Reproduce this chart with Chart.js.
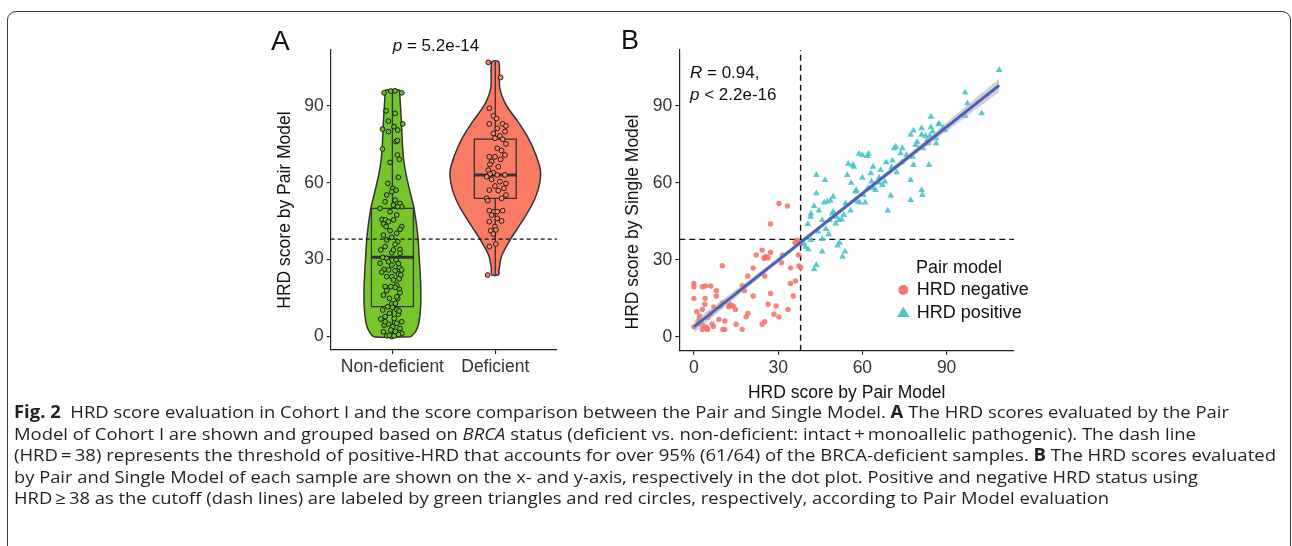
<!DOCTYPE html>
<html>
<head>
<meta charset="utf-8">
<script src="https://cdn.jsdelivr.net/npm/chart.js@4.4.1/dist/chart.umd.min.js"></script>
<style>
  body { margin: 0; background: #fff; width: 1292px; height: 546px; overflow: hidden; position: relative; }
  #frame { position: absolute; left: 7px; top: 11px; width: 1284px; height: 600px; border: 1px solid #3a3a3a; border-radius: 9px; box-sizing: border-box; }
  #wrapA { position: absolute; left: 255px; top: 20px; }
  #wrapB { position: absolute; left: 600px; top: 20px; }
  .cap { position: absolute; left: 14px; white-space: nowrap; font-family: "Open Sans", sans-serif; font-size: 17px; line-height: 22px; color: #231f20; transform-origin: 0 50%; }
</style>
</head>
<body>
<div id="frame"></div>
<div id="wrapA"><canvas id="chartA" width="345" height="370"></canvas></div>
<div id="wrapB"><canvas id="chartB" width="440" height="390"></canvas></div>

<div class="cap" style="top:401px"><b>Fig. 2</b>&nbsp; HRD score evaluation in Cohort I and the score comparison between the Pair and Single Model. <b>A</b> The HRD scores evaluated by the Pair</div>
<div class="cap" style="top:423px">Model of Cohort I are shown and grouped based on <i>BRCA</i> status (deficient vs. non-deficient: intact&#8201;+&#8201;monoallelic pathogenic). The dash line</div>
<div class="cap" style="top:444px">(HRD&#8201;=&#8201;38) represents the threshold of positive-HRD that accounts for over 95% (61/64) of the BRCA-deficient samples. <b>B</b> The HRD scores evaluated</div>
<div class="cap" style="top:466px">by Pair and Single Model of each sample are shown on the x- and y-axis, respectively in the dot plot. Positive and negative HRD status using</div>
<div class="cap" style="top:487px">HRD&#8201;&#8805;&#8201;38 as the cutoff (dash lines) are labeled by green triangles and red circles, respectively, according to Pair Model evaluation</div>

<script>
// ---- panel A data ----
const groups = ['Non-deficient', 'Deficient'];
const scoreTicks = [0, 30, 60, 90];
const cutoff = 38;

// violin outlines: score levels and half widths (in category units)
const nonDefLevels = [0, 2, 5, 12, 20, 30, 40, 50, 55, 60, 66, 72, 85, 94, 96];
const nonDefHalf = [0.180, 0.225, 0.255, 0.275, 0.275, 0.262, 0.245, 0.210, 0.180, 0.150, 0.120, 0.102, 0.086, 0.072, 0.070];
const defLevels = [24, 26.8, 31.8, 38.3, 44.8, 51.3, 57.8, 64.3, 70.8, 77.3, 83.8, 90.3, 96.8, 107];
const defHalf = [0.034, 0.039, 0.065, 0.153, 0.259, 0.356, 0.420, 0.440, 0.395, 0.322, 0.220, 0.105, 0.044, 0.034];

// box stats: min, q1, median, q3, max
const nonDefBox = [0, 11.7, 30.9, 50, 96];
const defBox = [24, 53.9, 63, 77, 107];

// jittered samples: horizontal offset and score
const nonDefJitter = [-0.081, -0.016, 0.026, 0.091, -0.061, 0.026, -0.039, 0.1, 0.016, -0.097, 0.052, -0.039, 0.036, 0.049, -0.097, 0.049, 0.068, -0.023, 0.058, -0.045,
  0.003, -0.006, 0.036, -0.055, 0.026, -0.071, 0.074, 0.091, 0.052, 0.01, -0.12, -0.023, -0.1, -0.068, -0.039, -0.087, 0.091, 0.074, -0.023, 0.042,
  -0.087, -0.006, -0.055, 0.052, 0.026, -0.071, 0.074, -0.113, -0.006, -0.094, -0.055, 0.036, -0.12, -0.006, 0.068, -0.081, -0.036, 0.026, -0.104, 0.058,
  -0.006, 0.01, 0.042, -0.071, 0.026, 0.068, -0.055, 0.074, 0.052, -0.087, -0.029, -0.006, -0.045, 0, 0.042, -0.094, -0.029, 0.058, -0.071, 0.019,
  -0.113, 0.091, 0.042, -0.039, -0.081, 0.003, 0.074, -0.016, -0.087, 0.036, -0.055, -0.006, 0.016, 0.091, 0.01, 0.042, -0.061, 0.01, -0.039, 0.074,
  -0.055, 0.042, -0.016, -0.071, 0.081, 0.065, 0.09, 0.058, 0.03, 0.06, -0.03, 0.065, 0.03];
const nonDefScore = [95, 95.7, 95.8, 95, 88, 87, 84, 82.9, 81.8, 80.9, 80.5, 79.9, 76, 76.4, 73.1, 70.8, 69.1, 67.9, 62.1, 59.7,
  57.8, 56.5, 57.1, 55.2, 53.2, 52.6, 51.9, 50.6, 50.6, 51.3, 50, 48.7, 45.7, 45.5, 44.8, 43.9, 42.9, 41.8, 41.3, 40.3,
  39.6, 38.7, 37.7, 37, 36, 35.1, 34, 33.8, 32.7, 30.9, 30.5, 29.9, 28.6, 27.9, 27, 26.2, 26, 25.7, 25.1, 24.4,
  23.4, 22.1, 20.1, 19.5, 19.2, 18.4, 17.9, 17.1, 14.9, 16.2, 14.9, 12.7, 11.7, 11.4, 10.6, 10.4, 9.1, 8.8, 7.8, 7.1,
  6.9, 5.8, 5.2, 4.9, 4.5, 3.9, 3.2, 2.6, 1.9, 1.3, 0.3, 0, 0.3, 1.3, 45.5, 47.4, 42.9, 33.8, 29.2, 32.5,
  23.4, 15.6, 19.5, 5.8, 24, 22.5, 26, 28.5, 2, 0.8, 0.5, 10, 13];
const defJitter = [-0.068, 0.052, -0.058, -0.019, 0.013, -0.058, 0.071, 0.104, 0.019, 0.094, -0.019, 0.045, -0.003, 0.071, 0.104, 0.019, 0.061, 0.094, -0.058, -0.003,
  0.052, -0.036, -0.052, 0.029, -0.068, -0.019, -0.052, 0.019, 0.094, -0.084, -0.036, 0.045, 0.104, -0.003, -0.058, 0.084, 0.029, 0.104, -0.084, 0.061,
  -0.074, -0.058, -0.013, 0.019, 0.071, -0.036, -0.058, 0.019, 0.061, -0.003, -0.045, 0.006, -0.019, -0.058, 0.006, -0.074];
const defScore = [106.9, 101, 89, 86, 85, 82.9, 82.9, 82.1, 81.2, 79.9, 79.2, 78.2, 77.3, 76.9, 75.1, 73.4, 72.5, 70.8, 70.1, 70.1,
  69.1, 68.2, 67.1, 66.2, 64.9, 63.9, 63.4, 63, 63, 62.3, 61.3, 60.4, 59.7, 58.7, 57.1, 57.8, 56.9, 55.2, 53.9, 53.9,
  53, 49.1, 48.7, 48.7, 49.1, 47.4, 44.8, 46.1, 45.1, 42.9, 41.3, 41.6, 40, 35.1, 36.1, 24];

// ---- panel B data ----
const negPair = [0, 0, 0, 0, 1, 3, 4.2, 6, 4, 3.9, 8, 8, 7.1, 6, 3, 1.8, 1.6, 3, 4.2, 4.8,
  3, 4.8, 2, 5, 10.1, 10.3, 11, 10.3, 11, 12.7, 12.4, 13.3, 8.9, 14.8, 15, 17.2, 17.2, 18, 19.2, 19.2,
  18.6, 21.1, 21.1, 22.2, 24.3, 25.2, 25.8, 26.4, 25, 27.3, 27.3, 27.3, 26.4, 25.2, 24.3, 25.2, 28.5, 29.3, 30.3, 30.3,
  31.2, 31.5, 33.3, 33.5, 34.4, 34.4, 35.4, 36.2, 37.2, 37.4, 38, 36.8, 36, 37.8, 2, 6.5, 9.5, 14, 7];
const negSingle = [20.8, 19.5, 15, 3.9, 9.8, 19.5, 19.8, 19.8, 15, 12.7, 18, 15.9, 11.7, 9, 10.7, 6.5, 5.2, 4.6, 3.9, 3.3,
  2.9, 2.9, 7, 7.5, 27.7, 13.3, 6.2, 2.9, 2.9, 12.7, 11.7, 12.2, 6.8, 10.7, 4.9, 2.9, 19.9, 18, 23.7, 9.1,
  7.8, 26.8, 15.9, 31.9, 33.8, 31, 31.2, 30.8, 30.5, 44, 32.9, 16.9, 12.7, 23.7, 4.9, 5.9, 8.8, 12, 52, 7.8,
  28.9, 31.9, 51, 10.7, 26.9, 20.8, 15.9, 21.8, 31.9, 27.6, 27, 37.7, 36.7, 36.7, 8, 5, 12, 12, 4];
const posPair = [39.2, 39.8, 40.7, 40.4, 41.7, 42.8, 43.6, 41.7, 41.6, 40.6, 42.8, 43.6, 43.6, 44.5, 45.7, 45.7, 45.7, 46.7, 46.4, 47.5,
  48.6, 48.3, 49.3, 49.6, 49.6, 50.5, 50.7, 51.2, 51.7, 51.9, 52.6, 52.9, 53.8, 53.4, 54, 54.6, 55, 55.8, 56.6, 57,
  57.6, 57.8, 58.2, 58.8, 59, 60, 60.3, 61, 61.8, 62.2, 63, 63.3, 63.8, 64.1, 64.7, 65.9, 66.5, 67.1, 68, 69,
  70.1, 70.4, 70.7, 71.3, 71.9, 72.2, 73.6, 74.2, 75.7, 77.2, 77.2, 77.2, 78.2, 78.2, 79, 77.8, 81.1, 81.1, 81.1, 81.4,
  81.6, 82.5, 83.1, 83.5, 84, 83.7, 84.4, 84.4, 86.3, 86.3, 87.1, 87.3, 89.4, 88.8, 96.6, 97.4, 96.6, 102.5, 108.7, 44.2,
  47, 56, 60, 66, 68.5, 74, 79.5, 85, 62, 48];
const posSingle = [36.2, 35.1, 34.1, 38.4, 37.7, 26.3, 28, 48.1, 46.8, 44, 51, 55.9, 63.1, 49.2, 45.5, 38.1, 33.2, 61.1, 52.3, 52.7,
  53.1, 45.5, 48.1, 54.6, 48.8, 44.2, 46.8, 35.6, 45.5, 36.7, 45.8, 31.2, 33.2, 47.5, 52, 63.1, 67.4, 49.2, 67, 66.3,
  56.6, 57.2, 52.7, 71.3, 52.3, 70.9, 55.3, 52.3, 70.5, 71.3, 63.7, 60.5, 66.3, 57.9, 57.2, 60.1, 65, 59.2, 60.5, 49.2,
  55, 66.1, 68.7, 73.5, 74.1, 64.1, 71.5, 73.5, 70.9, 78.7, 61.1, 53.3, 80.4, 67, 74.8, 70.2, 81.3, 78.7, 57.2, 55.3,
  73.5, 78.3, 76.7, 75.4, 78.3, 67, 85.8, 81.7, 75.4, 77.4, 82.8, 83, 80.6, 81.5, 95.2, 91, 86.1, 87.1, 104, 41,
  42, 60, 62, 62, 68, 68, 76, 80, 58, 40];

// linear fit and its confidence band
const fitX = [0, 108.7];
const fitY = [3.9, 98.0];
const bandX = [0, 20, 38, 60, 80, 108.7];
const bandLo = [1.6, 20.0, 36.0, 55.0, 71.9, 95.4];
const bandHi = [6.2, 22.4, 37.6, 56.8, 74.5, 100.6];

Chart.defaults.font.family = '"Liberation Sans", Arial, sans-serif';
Chart.defaults.color = '#333';

function lineSet(data, color, width, extra) {
    return Object.assign({
        type: 'scatter', data: data, showLine: true, borderColor: color, borderWidth: width,
        pointRadius: 0, pointHoverRadius: 0, fill: false, tension: 0
    }, extra);
}

function violinOutline(center, levels, half) {
    var right = levels.map((y, i) => ({x: center + half[i], y: y}));
    var left = levels.map((y, i) => ({x: center - half[i], y: y})).reverse();
    var pts = right.concat(left);
    pts.push(pts[0]);
    return pts;
}

function boxOutline(center, b) {
    var w = 0.204;
    return [{x: center - w, y: b[1]}, {x: center + w, y: b[1]}, {x: center + w, y: b[3]},
        {x: center - w, y: b[3]}, {x: center - w, y: b[1]}];
}

function drawMixed(ctx, parts, x, y, size) {
    // parts: [text, italic]
    var cx = x;
    parts.forEach(p => {
        ctx.font = (p[1] ? 'italic ' : '') + size + 'px "Liberation Sans", Arial, sans-serif';
        ctx.fillText(p[0], cx, y);
        cx += ctx.measureText(p[0]).width;
    });
    return cx - x;
}

function fixedTicks(values) {
    return scale => { scale.ticks = values.map(v => ({value: v})); };
}

var axisGrid = {display: true, drawOnChartArea: false, tickLength: 4, color: '#222', lineWidth: 1.1};
var axisBorder = {display: true, color: '#222', width: 1.2};
var tickFont = {size: 17.5};

// ---- panel A ----
var labelsA = {
    id: 'labelsA',
    afterDraw(chart) {
        var ctx = chart.ctx;
        ctx.save();
        ctx.fillStyle = '#111';
        ctx.textBaseline = 'alphabetic';
        ctx.textAlign = 'left';
        ctx.font = '28px "Liberation Sans", Arial, sans-serif';
        ctx.fillText('A', 16, 30);
        // p value, centred
        ctx.textBaseline = 'middle';
        ctx.globalAlpha = 0;
        var w = drawMixed(ctx, [['p', true], [' = 5.2e-14', false]], 0, 0, 17);
        ctx.globalAlpha = 1;
        drawMixed(ctx, [['p', true], [' = 5.2e-14', false]], 181 - w / 2, 26, 17);
        // y title
        ctx.translate(30, 190);
        ctx.rotate(-Math.PI / 2);
        ctx.textAlign = 'center';
        ctx.font = '17.5px "Liberation Sans", Arial, sans-serif';
        ctx.fillText('HRD score by Pair Model', 0, 0);
        ctx.restore();
    }
};

new Chart(document.getElementById('chartA'), {
    type: 'scatter',
    data: {
        datasets: [
            lineSet(violinOutline(1, nonDefLevels, nonDefHalf), '#333', 1.5, {fill: 'shape', backgroundColor: '#76C52B', tension: 0.3, order: 6}),
            lineSet(violinOutline(2, defLevels, defHalf), '#333', 1.5, {fill: 'shape', backgroundColor: '#F97B63', tension: 0.3, order: 6}),
            lineSet(boxOutline(1, nonDefBox), '#333', 1.3, {order: 5}),
            lineSet(boxOutline(2, defBox), '#333', 1.3, {order: 5}),
            lineSet([{x: 1, y: nonDefBox[0]}, {x: 1, y: nonDefBox[1]}], '#333', 1.3, {order: 5}),
            lineSet([{x: 1, y: nonDefBox[3]}, {x: 1, y: nonDefBox[4]}], '#333', 1.3, {order: 5}),
            lineSet([{x: 2, y: defBox[0]}, {x: 2, y: defBox[1]}], '#333', 1.3, {order: 5}),
            lineSet([{x: 2, y: defBox[3]}, {x: 2, y: defBox[4]}], '#333', 1.3, {order: 5}),
            lineSet([{x: 1 - 0.204, y: nonDefBox[2]}, {x: 1 + 0.204, y: nonDefBox[2]}], '#333', 3, {order: 5}),
            lineSet([{x: 2 - 0.204, y: defBox[2]}, {x: 2 + 0.204, y: defBox[2]}], '#333', 3, {order: 5}),
            {
                type: 'scatter', order: 2,
                data: nonDefScore.map((s, i) => ({x: 1 + nonDefJitter[i], y: s})),
                pointRadius: 2.4, backgroundColor: '#6DBE25', borderColor: '#111', borderWidth: 0.9
            },
            {
                type: 'scatter', order: 2,
                data: defScore.map((s, i) => ({x: 2 + defJitter[i], y: s})),
                pointRadius: 2.4, backgroundColor: '#F98468', borderColor: '#111', borderWidth: 0.9
            },
            lineSet([{x: 0.4, y: cutoff}, {x: 2.6, y: cutoff}], '#111', 1.1, {borderDash: [4, 3], order: 1})
        ]
    },
    options: {
        responsive: false,
        animation: false,
        events: [],
        layout: {padding: {left: 0, top: 30, right: 43, bottom: 0}},
        plugins: {legend: {display: false}, tooltip: {enabled: false}},
        scales: {
            x: {
                type: 'linear', min: 0.4, max: 2.6,
                afterBuildTicks: fixedTicks([1, 2]),
                afterFit: s => { s.height = 40; },
                ticks: {callback: (v, i) => groups[i], font: tickFont, color: '#333', padding: 3},
                grid: axisGrid, border: axisBorder
            },
            y: {
                type: 'linear', min: -5.2, max: 111.7,
                afterBuildTicks: fixedTicks(scoreTicks),
                afterFit: s => { s.width = 75.7; },
                ticks: {font: tickFont, color: '#333', padding: 3},
                grid: axisGrid, border: axisBorder
            }
        }
    },
    plugins: [labelsA]
});

// ---- panel B ----
var labelsB = {
    id: 'labelsB',
    afterDraw(chart) {
        var ctx = chart.ctx;
        ctx.save();
        ctx.fillStyle = '#111';
        ctx.textAlign = 'left';
        ctx.textBaseline = 'alphabetic';
        ctx.font = '27px "Liberation Sans", Arial, sans-serif';
        ctx.fillText('B', 21, 28.5);
        ctx.textBaseline = 'middle';
        drawMixed(ctx, [['R', true], [' = 0.94,', false]], 90, 53, 17);
        drawMixed(ctx, [['p', true], [' < 2.2e-16', false]], 90, 75.7, 17);
        // legend
        ctx.font = '18px "Liberation Sans", Arial, sans-serif';
        ctx.fillText('Pair model', 316, 248.3);
        ctx.fillText('HRD negative', 316.7, 270);
        ctx.fillText('HRD positive', 316.7, 292.7);
        ctx.fillStyle = '#F8766D';
        ctx.beginPath();
        ctx.arc(303.3, 270, 5, 0, Math.PI * 2);
        ctx.fill();
        ctx.fillStyle = '#4FC6CB';
        ctx.beginPath();
        ctx.moveTo(303.3, 286.5);
        ctx.lineTo(309.5, 297);
        ctx.lineTo(297.1, 297);
        ctx.closePath();
        ctx.fill();
        // y title
        ctx.fillStyle = '#111';
        ctx.translate(33.3, 202);
        ctx.rotate(-Math.PI / 2);
        ctx.textAlign = 'center';
        ctx.font = '17.5px "Liberation Sans", Arial, sans-serif';
        ctx.fillText('HRD score by Single Model', 0, 0);
        ctx.restore();
    }
};

new Chart(document.getElementById('chartB'), {
    type: 'scatter',
    data: {
        datasets: [
            lineSet([{x: cutoff, y: -5.4}, {x: cutoff, y: 111.8}], '#111', 1.4, {borderDash: [6, 4], order: 4}),
            lineSet([{x: -5.2, y: cutoff}, {x: 114, y: cutoff}], '#111', 1.4, {borderDash: [6, 4], order: 4}),
            {
                type: 'scatter', order: 2,
                data: negPair.map((p, i) => ({x: p, y: negSingle[i]})),
                pointRadius: 2.7, backgroundColor: 'rgba(248,118,109,0.9)', borderWidth: 0
            },
            {
                type: 'scatter', order: 2,
                data: posPair.map((p, i) => ({x: p, y: posSingle[i]})),
                pointStyle: 'triangle', pointRadius: 3.9, backgroundColor: 'rgba(70,196,201,0.9)', borderWidth: 0
            },
            lineSet(bandX.map((x, i) => ({x: x, y: bandLo[i]})), 'rgba(0,0,0,0)', 0, {order: 1}),
            lineSet(bandX.map((x, i) => ({x: x, y: bandHi[i]})), 'rgba(0,0,0,0)', 0, {fill: '-1', backgroundColor: 'rgba(170,170,170,0.55)', order: 1}),
            lineSet(fitX.map((x, i) => ({x: x, y: fitY[i]})), '#4B5FBE', 3, {order: 0})
        ]
    },
    options: {
        responsive: false,
        animation: false,
        events: [],
        layout: {padding: {left: 0, top: 30, right: 26, bottom: 0}},
        plugins: {legend: {display: false}, tooltip: {enabled: false}},
        scales: {
            x: {
                type: 'linear', min: -5.2, max: 114,
                afterBuildTicks: fixedTicks(scoreTicks),
                afterFit: s => { s.height = 59.3; },
                ticks: {font: tickFont, color: '#333', padding: 3},
                title: {display: true, text: 'HRD score by Pair Model', font: {size: 17.5}, color: '#111', padding: {top: 0, bottom: 6}},
                grid: axisGrid, border: axisBorder
            },
            y: {
                type: 'linear', min: -5.4, max: 111.8,
                afterBuildTicks: fixedTicks(scoreTicks),
                afterFit: s => { s.width = 79.3; },
                ticks: {font: tickFont, color: '#333', padding: 3},
                grid: axisGrid, border: axisBorder
            }
        }
    },
    plugins: [labelsB]
});

// stretch each caption line to where it ends in the reference
const capRight = [1229, 1196, 1276, 1198, 1109];
document.querySelectorAll('.cap').forEach((el, i) => {
    var w = el.getBoundingClientRect().width;
    el.style.transform = 'scaleX(' + ((capRight[i] - 14) / w).toFixed(4) + ')';
});
</script>
</body>
</html>
